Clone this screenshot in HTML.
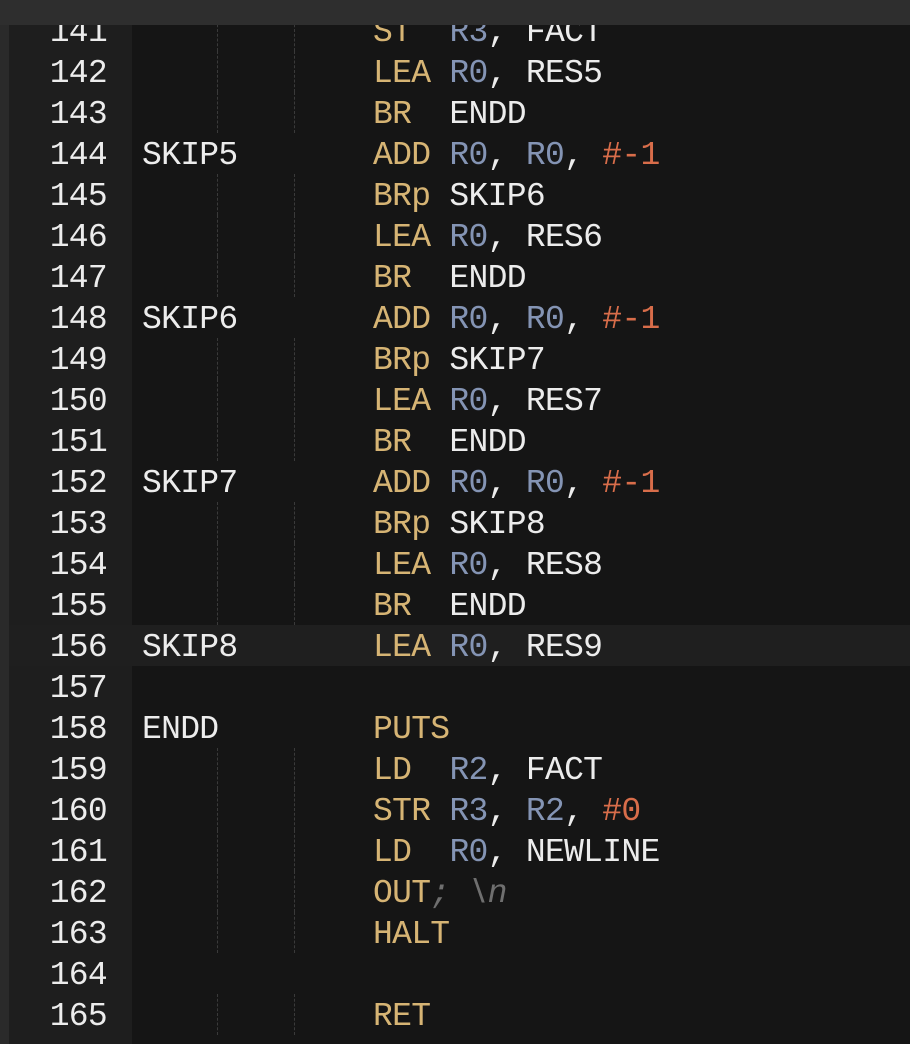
<!DOCTYPE html>
<html><head><style>
body{margin:0;width:910px;height:1044px;background:#151515;overflow:hidden;position:relative;font-family:"Liberation Mono",monospace;}
#top{position:absolute;left:0;top:0;width:910px;height:25px;background:#2e2e2e;z-index:5}
#strip{position:absolute;left:0;top:0;width:9px;height:1044px;background:#2a2a2a;z-index:4}
#gut{position:absolute;left:9px;top:0;width:123px;height:1044px;background:#1e1e1e}
.l{position:absolute;left:9px;width:901px;height:41px;line-height:45px;font-size:33px;letter-spacing:-0.7px;color:#ececec;white-space:pre}
.l.hl{background:#1f1f1f}
.n{position:absolute;right:803px;text-align:right}
.lb{position:absolute;left:133px}
.c{position:absolute;left:364px}
.g{position:absolute;top:0;height:41px;width:0;border-left:1px dashed #3a3a3a}
.k{color:#d6b474}.r{color:#8494b4}.h{color:#d86d4a}.m{color:#6f6f6f;font-style:italic}
</style></head><body>
<div id="top"></div><div id="strip"></div><div id="gut"></div>
<div id="lines"></div>
<script>
var L=[
[141,"",'<span class="k">ST</span>  <span class="r">R3</span>, FACT'],
[142,"",'<span class="k">LEA</span> <span class="r">R0</span>, RES5'],
[143,"",'<span class="k">BR</span>  ENDD'],
[144,"SKIP5",'<span class="k">ADD</span> <span class="r">R0</span>, <span class="r">R0</span>, <span class="h">#-1</span>'],
[145,"",'<span class="k">BRp</span> SKIP6'],
[146,"",'<span class="k">LEA</span> <span class="r">R0</span>, RES6'],
[147,"",'<span class="k">BR</span>  ENDD'],
[148,"SKIP6",'<span class="k">ADD</span> <span class="r">R0</span>, <span class="r">R0</span>, <span class="h">#-1</span>'],
[149,"",'<span class="k">BRp</span> SKIP7'],
[150,"",'<span class="k">LEA</span> <span class="r">R0</span>, RES7'],
[151,"",'<span class="k">BR</span>  ENDD'],
[152,"SKIP7",'<span class="k">ADD</span> <span class="r">R0</span>, <span class="r">R0</span>, <span class="h">#-1</span>'],
[153,"",'<span class="k">BRp</span> SKIP8'],
[154,"",'<span class="k">LEA</span> <span class="r">R0</span>, RES8'],
[155,"",'<span class="k">BR</span>  ENDD'],
[156,"SKIP8",'<span class="k">LEA</span> <span class="r">R0</span>, RES9'],
[157,"",''],
[158,"ENDD",'<span class="k">PUTS</span>'],
[159,"",'<span class="k">LD</span>  <span class="r">R2</span>, FACT'],
[160,"",'<span class="k">STR</span> <span class="r">R3</span>, <span class="r">R2</span>, <span class="h">#0</span>'],
[161,"",'<span class="k">LD</span>  <span class="r">R0</span>, NEWLINE'],
[162,"",'<span class="k">OUT</span><span class="m">; \\n</span>'],
[163,"",'<span class="k">HALT</span>'],
[164,"",''],
[165,"",'<span class="k">RET</span>']];
var h='';
L.forEach(function(x,i){
 var top=9.5+i*41;
 var g=(x[1]===''&&x[2]!=='')?'<div class="g" style="left:208px"></div><div class="g" style="left:285px"></div>':'';
 h+='<div class="l'+(x[0]==156?' hl':'')+'" style="top:'+top+'px">'+g+'<span class="n">'+x[0]+'</span><span class="lb">'+x[1]+'</span><span class="c">'+x[2]+'</span></div>';
});
document.getElementById('lines').innerHTML=h;
</script>
</body></html>
